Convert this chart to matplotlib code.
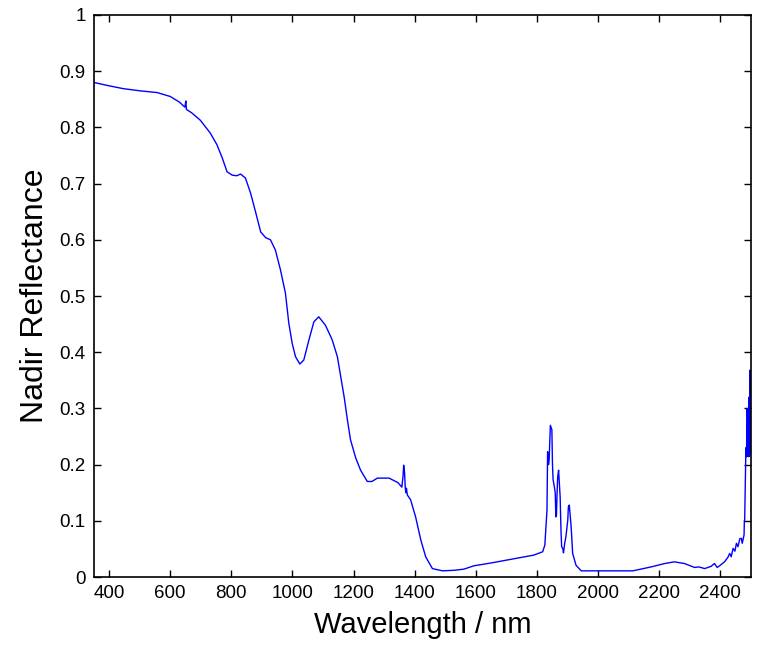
import matplotlib.pyplot as plt
from matplotlib.ticker import FormatStrFormatter

plt.rcParams['font.family'] = ['Liberation Sans', 'DejaVu Sans']

# spectrum
wavelength = [350, 400, 446, 502, 557, 600, 630, 648, 651, 653, 670, 698, 731, 753,
              770, 786, 803, 818, 830, 846, 863, 880, 896, 912, 928, 944, 961, 977,
              988, 999, 1010, 1024, 1037, 1054, 1070, 1086, 1108, 1130, 1147, 1158,
              1169, 1180, 1190, 1207, 1223, 1245, 1260, 1278, 1316, 1345, 1358, 1362,
              1364, 1367, 1369, 1371, 1373, 1376, 1387, 1403, 1420, 1436, 1458, 1491,
              1530, 1561, 1594, 1650, 1700, 1748, 1790, 1819, 1826, 1833, 1835, 1838,
              1840, 1844, 1849, 1851, 1853, 1857, 1860, 1862, 1864, 1866, 1868, 1871,
              1876, 1879, 1881, 1885, 1887, 1891, 1895, 1901, 1903, 1906, 1909, 1912,
              1917, 1928, 1945, 2043, 2114, 2140, 2174, 2218, 2250, 2283, 2316, 2330,
              2349, 2370, 2381, 2390, 2398, 2414, 2425, 2431, 2436, 2442, 2448, 2453,
              2458, 2464, 2469, 2472, 2478, 2479, 2480, 2482, 2484, 2486, 2488, 2489,
              2490, 2491, 2493, 2494, 2495, 2496, 2497, 2498, 2499, 2500]
reflectance = [0.880, 0.874, 0.869, 0.865, 0.862, 0.855, 0.845, 0.836, 0.847, 0.832,
               0.826, 0.813, 0.790, 0.769, 0.746, 0.721, 0.715, 0.714, 0.717, 0.710,
               0.683, 0.648, 0.614, 0.604, 0.600, 0.582, 0.546, 0.505, 0.452, 0.416,
               0.392, 0.379, 0.386, 0.422, 0.454, 0.463, 0.448, 0.422, 0.392, 0.356,
               0.321, 0.279, 0.244, 0.212, 0.190, 0.170, 0.170, 0.176, 0.176, 0.168,
               0.160, 0.180, 0.199, 0.185, 0.160, 0.150, 0.158, 0.146, 0.137, 0.107,
               0.066, 0.036, 0.015, 0.011, 0.012, 0.014, 0.020, 0.025, 0.030, 0.035,
               0.039, 0.045, 0.057, 0.119, 0.223, 0.200, 0.208, 0.270, 0.262, 0.200,
               0.173, 0.161, 0.150, 0.107, 0.110, 0.150, 0.178, 0.190, 0.143, 0.080,
               0.054, 0.050, 0.043, 0.060, 0.072, 0.101, 0.125, 0.128, 0.110, 0.090,
               0.042, 0.021, 0.011, 0.011, 0.011, 0.014, 0.018, 0.024, 0.027, 0.024,
               0.017, 0.018, 0.015, 0.019, 0.024, 0.017, 0.020, 0.027, 0.035, 0.042,
               0.036, 0.051, 0.046, 0.060, 0.054, 0.068, 0.069, 0.060, 0.075, 0.101,
               0.101, 0.161, 0.230, 0.214, 0.300, 0.285, 0.215, 0.220, 0.214, 0.320,
               0.300, 0.215, 0.368, 0.230, 0.221, 0.226]

fig = plt.figure(figsize=(7.63, 6.52), dpi=100)
ax = fig.add_axes([0.123, 0.115, 0.861, 0.862])
ax.plot(wavelength, reflectance, color='#0000ff', linewidth=1.0)

ax.set_xlim(350, 2500)
ax.set_ylim(0, 1)
ax.set_xticks(range(400, 2401, 200))
ax.set_yticks([i / 10 for i in range(11)])
ax.yaxis.set_major_formatter(FormatStrFormatter('%g'))
ax.tick_params(direction='in', top=True, right=True, length=5, width=1,
               labelsize=13.5, pad=6)
for s in ax.spines.values():
    s.set_linewidth(1.2)

ax.set_xlabel('Wavelength / nm', fontsize=21, labelpad=6)
ax.set_ylabel('Nadir Reflectance', fontsize=23, labelpad=7)

fig.savefig('out.png', dpi=100)
